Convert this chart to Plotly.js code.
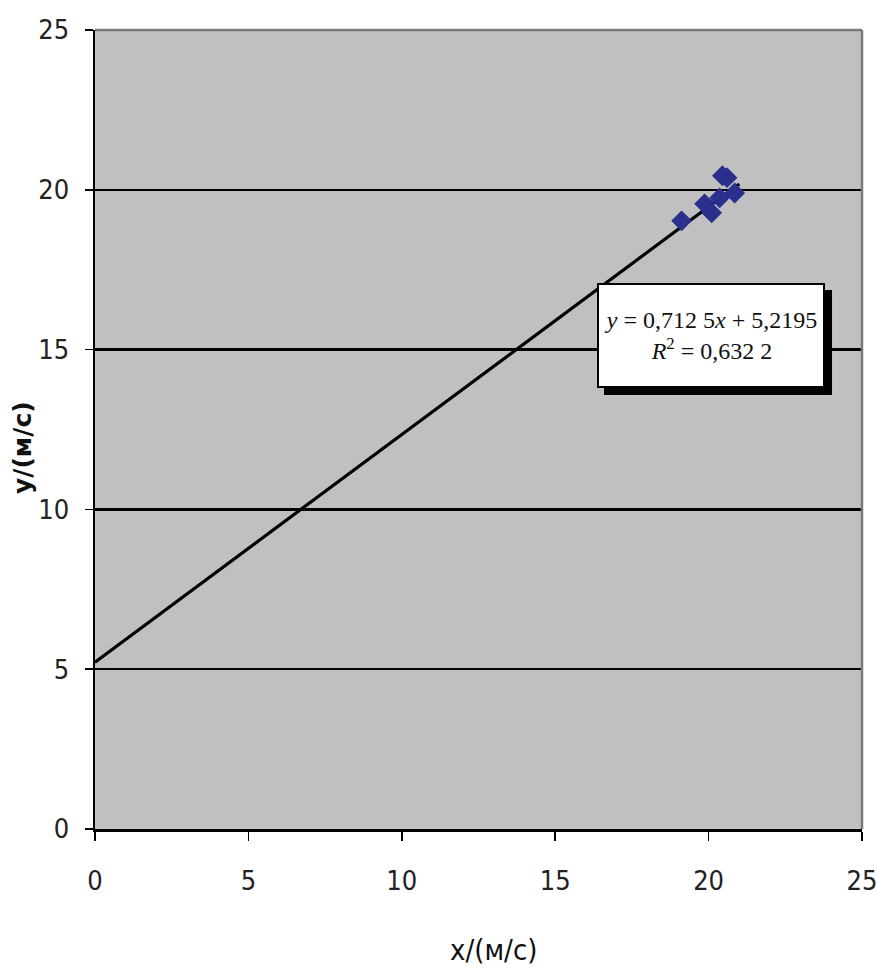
<!DOCTYPE html>
<html>
<head>
<meta charset="utf-8">
<script src="https://cdn.plot.ly/plotly-3.0.1.min.js"></script>
<style>html,body{margin:0;padding:0;background:#fff;}#chart{width:877px;height:968px;}</style>
</head>
<body>
<div id="chart"></div>
<script>
// Observed data points (x, y in m/s)
const pointsX = [19.12, 19.87, 20.10, 20.36, 20.45, 20.60, 20.85];
const pointsY = [19.03, 19.56, 19.28, 19.75, 20.44, 20.38, 19.90];
// Linear trend line
const slope = 0.7125;
const intercept = 5.2195;
const trendX = [0, 21];
const trendY = trendX.map(v => slope * v + intercept);
// Axis ticks
const tickVals = [0, 5, 10, 15, 20, 25];
const tickText = ['0', '5', '10', '15', '20', '25'];
const equationText = '<i>y</i> = 0,712 5<i>x</i> + 5,2195<br><i>R</i><sup>2</sup> = 0,632 2';
const xTitle = 'x/(м/с)';
const yTitle = '<b>y/(м/с)</b>';

const tickFont = {family: 'DejaVu Sans Condensed, Liberation Sans Narrow, DejaVu Sans, sans-serif', size: 27, color: '#222'};

const data = [
  {x: trendX, y: trendY, mode: 'lines', type: 'scatter', line: {color: '#000', width: 3.2}, hoverinfo: 'skip'},
  {x: pointsX, y: pointsY, mode: 'markers', type: 'scatter',
   marker: {symbol: 'diamond', size: 16, color: '#2B2F8E', line: {width: 0}}}
];

const layout = {
  width: 877, height: 968,
  margin: {l: 95, r: 15, t: 30, b: 139},
  paper_bgcolor: '#fff',
  plot_bgcolor: '#C0C0C0',
  showlegend: false,
  xaxis: {
    range: [0, 25], tickvals: tickVals, ticktext: tickText,
    showgrid: false, zeroline: false,
    showline: true, linecolor: '#000', linewidth: 2.5,
    ticks: 'outside', ticklen: 9, tickcolor: '#000', tickwidth: 1.5,
    ticklabelstandoff: 17, ticklabeloverflow: 'allow',
    tickfont: tickFont
  },
  yaxis: {
    range: [0, 25], tickvals: tickVals, ticktext: tickText,
    showgrid: true, gridcolor: '#000', gridwidth: 2.5, zeroline: false,
    showline: true, linecolor: '#000', linewidth: 2.5,
    ticks: 'outside', ticklen: 8, tickcolor: '#000', tickwidth: 1.5,
    ticklabelstandoff: 10, ticklabeloverflow: 'allow',
    tickfont: tickFont
  },
  shapes: [
    {type: 'line', xref: 'paper', yref: 'paper', x0: 0, x1: 1, y0: 1, y1: 1, line: {color: '#7a7a7a', width: 2.5}},
    {type: 'line', xref: 'paper', yref: 'paper', x0: 1, x1: 1, y0: 0, y1: 1, line: {color: '#7a7a7a', width: 2.5}},
    {type: 'rect', xref: 'paper', yref: 'paper', x0: 0.6636, x1: 0.9609, y0: 0.5432, y1: 0.6746, fillcolor: '#000', line: {width: 0}}
  ],
  annotations: [
    {
      xref: 'paper', yref: 'paper', x: 0.6545, y: 0.6834, xanchor: 'left', yanchor: 'top',
      text: equationText, showarrow: false, align: 'center',
      font: {family: 'Liberation Serif, DejaVu Serif, serif', size: 24, color: '#111'},
      bgcolor: '#fff', bordercolor: '#000', borderwidth: 2, borderpad: 4,
      width: 216, height: 93
    },
    {
      xref: 'paper', yref: 'paper', x: (493 - 95) / 767, y: -(950 - 829) / 799,
      xanchor: 'center', yanchor: 'middle', showarrow: false,
      text: xTitle,
      font: {family: 'Liberation Sans Narrow, DejaVu Sans Condensed, Liberation Sans, sans-serif', size: 29, color: '#111'}
    },
    {
      xref: 'paper', yref: 'paper', x: (22 - 95) / 767, y: (829 - 448) / 799,
      xanchor: 'center', yanchor: 'middle', showarrow: false, textangle: -90,
      text: yTitle,
      font: {family: 'DejaVu Sans, sans-serif', size: 25, color: '#111'}
    }
  ]
};

Plotly.newPlot('chart', data, layout, {displayModeBar: false, staticPlot: true});
</script>
</body>
</html>
